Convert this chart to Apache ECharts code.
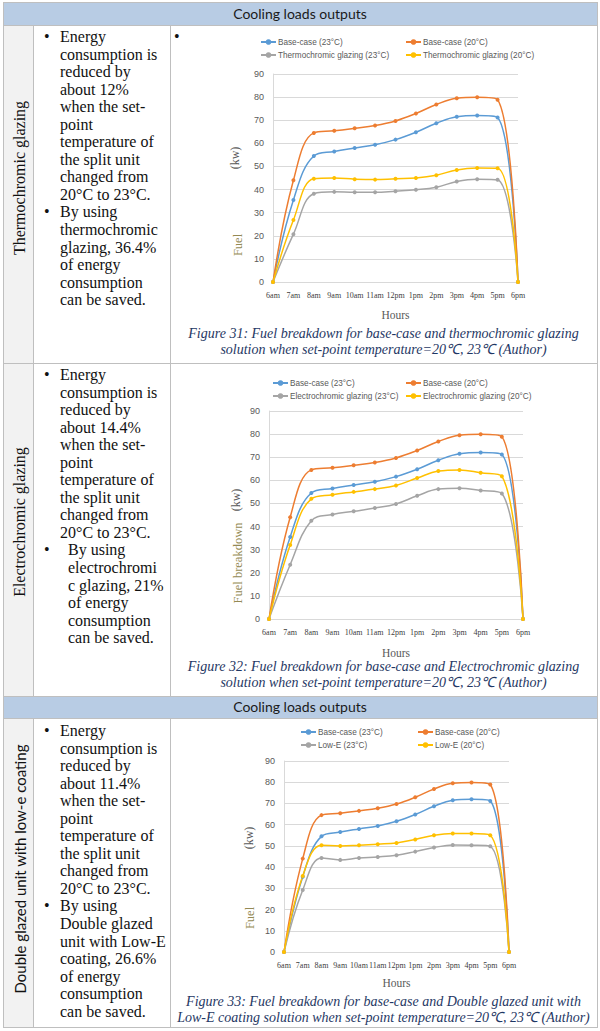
<!DOCTYPE html>
<html>
<head>
<meta charset="utf-8">
<script src="https://cdn.jsdelivr.net/npm/echarts@6/dist/echarts.min.js"></script>
<style>
  html, body { margin:0; padding:0; background:#fff; }
  body { position:relative; width:600px; height:1031px; overflow:hidden; font-family:"Liberation Serif", serif; color:#111; }
  .hdr { position:absolute; left:3px; width:594px; background:#b8cce4; font-family:Lato, "Liberation Sans", sans-serif; font-size:14px; color:#1a1a1a; text-align:center; }
  .hl { position:absolute; height:1px; background:#bfbfbf; }
  .vl { position:absolute; width:1px; background:#bfbfbf; }
  .col1 { position:absolute; left:3px; width:30px; background:#f2f2f2; }
  .txt { position:absolute; font-size:16px; line-height:17.55px; white-space:nowrap; color:#111; }
  .li { position:relative; }
  .b { position:absolute; left:-16px; }
  .rot { position:absolute; white-space:nowrap; transform:translate(-50%,-50%) rotate(-90deg); color:#111; }
  .cap { position:absolute; left:171px; width:425px; text-align:center; font-style:italic; font-size:14px; line-height:15.8px; color:#1f3864; white-space:nowrap; }
  .chart { position:absolute; left:171px; width:425px; }
</style>
</head>
<body>
<!-- header rows -->
<div class="hdr" style="top:2px;height:23px;line-height:23px;">Cooling loads outputs</div>
<div class="hdr" style="top:696px;height:22px;line-height:22px;">Cooling loads outputs</div>

<!-- first column backgrounds -->
<div class="col1" style="top:25px;height:338px;"></div>
<div class="col1" style="top:363px;height:333px;"></div>
<div class="col1" style="top:718px;height:309px;"></div>

<!-- borders -->
<div class="hl" style="left:3px;width:595px;top:2px;"></div>
<div class="hl" style="left:3px;width:595px;top:25px;"></div>
<div class="hl" style="left:3px;width:595px;top:363px;"></div>
<div class="hl" style="left:3px;width:595px;top:696px;"></div>
<div class="hl" style="left:3px;width:595px;top:718px;"></div>
<div class="hl" style="left:3px;width:595px;top:1027px;"></div>
<div class="vl" style="left:3px;top:2px;height:1026px;"></div>
<div class="vl" style="left:597px;top:2px;height:1026px;"></div>
<div class="vl" style="left:33px;top:25px;height:671px;"></div>
<div class="vl" style="left:170px;top:25px;height:671px;"></div>
<div class="vl" style="left:33px;top:718px;height:309px;"></div>
<div class="vl" style="left:170px;top:718px;height:309px;"></div>

<!-- rotated row labels -->
<div class="rot" style="left:20px;top:178px;font-size:16px;">Thermochromic glazing</div>
<div class="rot" style="left:20px;top:522px;font-size:16px;">Electrochromic glazing</div>
<div class="rot" style="left:20px;top:869px;font-size:15px;font-family:Lato,'Liberation Sans',sans-serif;">Double glazed unit with low-e coating</div>

<!-- row texts -->
<div class="txt" style="left:60px;top:28px;">
  <div class="li"><span class="b">•</span>Energy<br>consumption is<br>reduced by<br>about 12%<br>when the set-<br>point<br>temperature of<br>the split unit<br>changed from<br>20°C to 23°C.</div>
  <div class="li"><span class="b">•</span>By using<br>thermochromic<br>glazing, 36.4%<br>of energy<br>consumption<br>can be saved.</div>
</div>
<div class="txt" style="left:60px;top:366px;">
  <div class="li"><span class="b">•</span>Energy<br>consumption is<br>reduced by<br>about 14.4%<br>when the set-<br>point<br>temperature of<br>the split unit<br>changed from<br>20°C to 23°C.</div>
  <div class="li" style="left:8px;"><span class="b" style="left:-24px;">•</span>By using<br>electrochromi<br>c glazing, 21%<br>of energy<br>consumption<br>can be saved.</div>
</div>
<div class="txt" style="left:60px;top:722px;">
  <div class="li"><span class="b">•</span>Energy<br>consumption is<br>reduced by<br>about 11.4%<br>when the set-<br>point<br>temperature of<br>the split unit<br>changed from<br>20°C to 23°C.</div>
  <div class="li"><span class="b">•</span>By using<br>Double glazed<br>unit with Low-E<br>coating, 26.6%<br>of energy<br>consumption<br>can be saved.</div>
</div>
<div class="txt" style="left:174px;top:28px;">•</div>

<!-- charts -->
<div id="c1" class="chart" style="top:26px;height:300px;"></div>
<div id="c2" class="chart" style="top:364px;height:300px;"></div>
<div id="c3" class="chart" style="top:719px;height:275px;"></div>

<!-- captions -->
<div class="cap" style="top:326px;">Figure 31: Fuel breakdown for base-case and thermochromic glazing<br>solution when set-point temperature=20℃, 23℃ (Author)</div>
<div class="cap" style="top:659px;">Figure 32: Fuel breakdown for base-case and Electrochromic glazing<br>solution when set-point temperature=20℃, 23℃ (Author)</div>
<div class="cap" style="top:994px;">Figure 33: Fuel breakdown for base-case and Double glazed unit with<br>Low-E coating solution when set-point temperature=20℃, 23℃ (Author)</div>

<script>
// ---- data ----
const hours = ['6am','7am','8am','9am','10am','11am','12pm','1pm','2pm','3pm','4pm','5pm','6pm'];
const yTicks = { min: 0, max: 90, interval: 10 };

const base23 = [0, 35.5, 54.5, 56.5, 58.0, 59.4, 61.6, 64.8, 68.7, 71.5, 72.0, 71.2, 0];
const base20 = [0, 44.0, 64.5, 65.4, 66.5, 67.7, 69.7, 72.9, 76.8, 79.5, 79.9, 78.9, 0];

const thermo23 = [0, 20.7, 38.2, 39.0, 38.8, 38.8, 39.3, 39.9, 41.0, 43.5, 44.5, 44.2, 0];
const thermo20 = [0, 26.8, 44.7, 45.0, 44.5, 44.3, 44.7, 45.0, 46.2, 48.5, 49.3, 49.2, 0];

const electro23 = [0, 23.5, 42.5, 45.2, 46.6, 48.0, 49.8, 53.3, 56.2, 56.6, 55.6, 54.3, 0];
const electro20 = [0, 32.0, 52.0, 53.8, 55.0, 56.2, 57.8, 61.0, 64.0, 64.5, 63.3, 61.8, 0];

const lowe23 = [0, 29.2, 44.3, 43.4, 44.3, 44.8, 45.6, 47.3, 49.2, 50.4, 50.3, 49.8, 0];
const lowe20 = [0, 35.8, 50.3, 49.9, 50.3, 50.8, 51.4, 53.0, 55.0, 55.8, 55.8, 55.0, 0];

const colors = { b23: '#5b9bd5', b20: '#ed7d31', s23: '#a5a5a5', s20: '#ffc000' };

function legend(name, left, top) {
  return {
    data: [name], left: left, top: top, orient: 'horizontal', padding: 0,
    itemWidth: 15, itemHeight: 7, itemGap: 0,
    textStyle: { fontSize: 8.2, color: '#595959', fontFamily: '"Liberation Sans",sans-serif', padding: [0,0,0,-3] }
  };
}
function series(name, data, color) {
  return {
    name: name, type: 'line', data: data, smooth: 0.4,
    symbol: 'circle', symbolSize: 4, showSymbol: true,
    lineStyle: { width: 1.5, color: color }, itemStyle: { color: color }
  };
}
function makeChart(id, cfg) {
  const chart = echarts.init(document.getElementById(id), null, { renderer: 'svg' });
  chart.setOption({
    animation: false,
    grid: cfg.grid,
    legend: cfg.legends,
    xAxis: {
      type: 'category', data: hours, boundaryGap: false,
      axisLine: { show: true, lineStyle: { color: '#d9d9d9' } },
      axisTick: { show: false },
      axisLabel: { interval: 0, fontSize: 8, color: '#404040', fontFamily: '"Liberation Serif",serif', margin: 9 },
      name: 'Hours', nameLocation: 'middle', nameGap: cfg.nameGap,
      nameTextStyle: { fontSize: 11.5, color: '#595959', fontFamily: '"Liberation Serif",serif' }
    },
    yAxis: {
      type: 'value', min: yTicks.min, max: yTicks.max, interval: yTicks.interval,
      axisLine: { show: true, lineStyle: { color: '#d9d9d9' } },
      axisTick: { show: false },
      splitLine: { lineStyle: { color: '#d9d9d9', width: 1 } },
      axisLabel: { fontSize: 9, color: '#595959', margin: 9, fontFamily: '"Liberation Sans",sans-serif' }
    },
    graphic: [
      { type: 'text', x: cfg.kw[0], y: cfg.kw[1], rotation: Math.PI / 2,
        style: { text: '(kw)', fill: '#595959', fontSize: 12, fontFamily: '"Liberation Serif",serif', align: 'center', verticalAlign: 'middle' } },
      { type: 'text', x: cfg.fuel[0], y: cfg.fuel[1], rotation: Math.PI / 2,
        style: { text: cfg.fuelText, fill: '#948a54', fontSize: 12.5, fontFamily: '"Liberation Serif",serif', align: 'center', verticalAlign: 'middle' } }
    ],
    series: cfg.series
  });
}

makeChart('c1', {
  grid: { left: 102, top: 48, width: 245, height: 213 },
  nameGap: 27,
  legends: [
    legend('Base-case (23°C)', 89, 12),
    legend('Base-case (20°C)', 234, 12),
    legend('Thermochromic glazing (23°C)', 89, 25),
    legend('Thermochromic glazing (20°C)', 234, 25)
  ],
  kw: [64, 132], fuel: [67, 219], fuelText: 'Fuel',
  series: [
    series('Base-case (23°C)', base23, colors.b23),
    series('Base-case (20°C)', base20, colors.b20),
    series('Thermochromic glazing (23°C)', thermo23, colors.s23),
    series('Thermochromic glazing (20°C)', thermo20, colors.s20)
  ]
});

makeChart('c2', {
  grid: { left: 98, top: 47, width: 254, height: 213 },
  nameGap: 28,
  legends: [
    legend('Base-case (23°C)', 101, 15),
    legend('Base-case (20°C)', 234, 15),
    legend('Electrochromic glazing (23°C)', 101, 28),
    legend('Electrochromic glazing (20°C)', 234, 28)
  ],
  kw: [65, 136], fuel: [67, 199], fuelText: 'Fuel breakdown',
  series: [
    series('Base-case (23°C)', base23, colors.b23),
    series('Base-case (20°C)', base20, colors.b20),
    series('Electrochromic glazing (23°C)', electro23, colors.s23),
    series('Electrochromic glazing (20°C)', electro20, colors.s20)
  ]
});

makeChart('c3', {
  grid: { left: 113, top: 42, width: 225, height: 198 },
  nameGap: 25,
  legends: [
    legend('Base-case (23°C)', 129, 9),
    legend('Base-case (20°C)', 246, 9),
    legend('Low-E (23°C)', 129, 22),
    legend('Low-E (20°C)', 246, 22)
  ],
  kw: [78, 119], fuel: [79, 199], fuelText: 'Fuel',
  series: [
    series('Base-case (23°C)', base23, colors.b23),
    series('Base-case (20°C)', base20, colors.b20),
    series('Low-E (23°C)', lowe23, colors.s23),
    series('Low-E (20°C)', lowe20, colors.s20)
  ]
});
</script>
</body>
</html>
